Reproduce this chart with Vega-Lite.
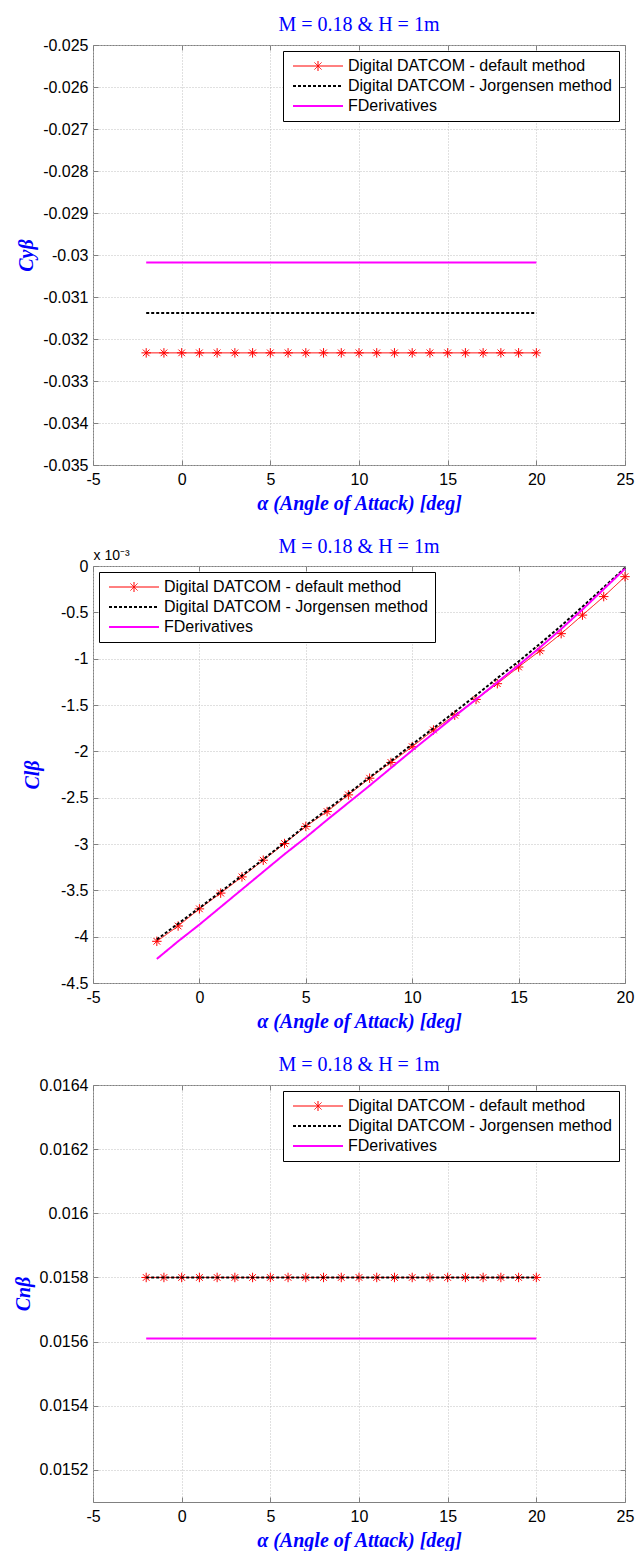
{
  "$schema": "https://vega.github.io/schema/vega-lite/v6.json",
  "background": "white",
  "padding": {"left": 12, "top": 14, "right": 0, "bottom": 0},
  "config": {
    "locale": {"number": {"decimal": ".", "thousands": ",", "grouping": [3], "currency": ["$", ""], "minus": "-"}},
    "view": {"stroke": "#808080", "strokeWidth": 1},
    "axis": {
      "domain": false,
      "labelFont": "Liberation Sans", "labelFontSize": 16, "labelColor": "#000000",
      "titleFont": "Liberation Serif", "titleFontSize": 20, "titleFontStyle": "italic", "titleFontWeight": "bold", "titleColor": "#0000ff",
      "tickColor": "#808080", "tickSize": -5, "labelPadding": 10,
      "gridColor": "#c0c0c0", "gridDash": [1, 2], "gridWidth": 1,
      "labelFlush": false, "labelOverlap": false
    },
    "axisX": {"labelPadding": 11, "titlePadding": 6},
    "axisY": {"titlePadding": 6},
    "title": {"font": "Liberation Serif", "fontSize": 20, "fontWeight": "normal", "color": "#0000ff", "offset": 2, "anchor": "middle"},
    "legend": {
      "strokeColor": "#000000", "fillColor": "#ffffff", "padding": 7,
      "labelFont": "Liberation Sans", "labelFontSize": 16, "labelColor": "#000000", "labelLimit": 400,
      "rowPadding": 4
    }
  },
  "datasets": {
    "cy": [
      {"alpha": -2, "def": -0.03233, "jor": -0.03138, "fd": -0.03018},
      {"alpha": -1, "def": -0.03233, "jor": -0.03138, "fd": -0.03018},
      {"alpha": 0, "def": -0.03233, "jor": -0.03138, "fd": -0.03018},
      {"alpha": 1, "def": -0.03233, "jor": -0.03138, "fd": -0.03018},
      {"alpha": 2, "def": -0.03233, "jor": -0.03138, "fd": -0.03018},
      {"alpha": 3, "def": -0.03233, "jor": -0.03138, "fd": -0.03018},
      {"alpha": 4, "def": -0.03233, "jor": -0.03138, "fd": -0.03018},
      {"alpha": 5, "def": -0.03233, "jor": -0.03138, "fd": -0.03018},
      {"alpha": 6, "def": -0.03233, "jor": -0.03138, "fd": -0.03018},
      {"alpha": 7, "def": -0.03233, "jor": -0.03138, "fd": -0.03018},
      {"alpha": 8, "def": -0.03233, "jor": -0.03138, "fd": -0.03018},
      {"alpha": 9, "def": -0.03233, "jor": -0.03138, "fd": -0.03018},
      {"alpha": 10, "def": -0.03233, "jor": -0.03138, "fd": -0.03018},
      {"alpha": 11, "def": -0.03233, "jor": -0.03138, "fd": -0.03018},
      {"alpha": 12, "def": -0.03233, "jor": -0.03138, "fd": -0.03018},
      {"alpha": 13, "def": -0.03233, "jor": -0.03138, "fd": -0.03018},
      {"alpha": 14, "def": -0.03233, "jor": -0.03138, "fd": -0.03018},
      {"alpha": 15, "def": -0.03233, "jor": -0.03138, "fd": -0.03018},
      {"alpha": 16, "def": -0.03233, "jor": -0.03138, "fd": -0.03018},
      {"alpha": 17, "def": -0.03233, "jor": -0.03138, "fd": -0.03018},
      {"alpha": 18, "def": -0.03233, "jor": -0.03138, "fd": -0.03018},
      {"alpha": 19, "def": -0.03233, "jor": -0.03138, "fd": -0.03018},
      {"alpha": 20, "def": -0.03233, "jor": -0.03138, "fd": -0.03018}
    ],
    "cl": [
      {"alpha": -2, "def": -4.05, "jor": -4.03, "fd": -4.24},
      {"alpha": -1, "def": -3.885, "jor": -3.86, "fd": -4.05},
      {"alpha": 0, "def": -3.7, "jor": -3.69, "fd": -3.87},
      {"alpha": 1, "def": -3.53, "jor": -3.515, "fd": -3.68},
      {"alpha": 2, "def": -3.355, "jor": -3.34, "fd": -3.49},
      {"alpha": 3, "def": -3.175, "jor": -3.165, "fd": -3.3},
      {"alpha": 4, "def": -2.995, "jor": -2.985, "fd": -3.11},
      {"alpha": 5, "def": -2.81, "jor": -2.8, "fd": -2.93},
      {"alpha": 6, "def": -2.65, "jor": -2.63, "fd": -2.74},
      {"alpha": 7, "def": -2.47, "jor": -2.455, "fd": -2.555},
      {"alpha": 8, "def": -2.29, "jor": -2.28, "fd": -2.37},
      {"alpha": 9, "def": -2.12, "jor": -2.105, "fd": -2.18},
      {"alpha": 10, "def": -1.95, "jor": -1.925, "fd": -1.99},
      {"alpha": 11, "def": -1.77, "jor": -1.75, "fd": -1.805},
      {"alpha": 12, "def": -1.61, "jor": -1.575, "fd": -1.62},
      {"alpha": 13, "def": -1.44, "jor": -1.395, "fd": -1.44},
      {"alpha": 14, "def": -1.27, "jor": -1.21, "fd": -1.255},
      {"alpha": 15, "def": -1.09, "jor": -1.03, "fd": -1.07},
      {"alpha": 16, "def": -0.915, "jor": -0.84, "fd": -0.88},
      {"alpha": 17, "def": -0.73, "jor": -0.645, "fd": -0.68},
      {"alpha": 18, "def": -0.53, "jor": -0.44, "fd": -0.47},
      {"alpha": 19, "def": -0.33, "jor": -0.23, "fd": -0.25},
      {"alpha": 20, "def": -0.115, "jor": -0.02, "fd": -0.03}
    ],
    "cn": [
      {"alpha": -2, "def": 0.0158, "jor": 0.0158, "fd": 0.01561},
      {"alpha": -1, "def": 0.0158, "jor": 0.0158, "fd": 0.01561},
      {"alpha": 0, "def": 0.0158, "jor": 0.0158, "fd": 0.01561},
      {"alpha": 1, "def": 0.0158, "jor": 0.0158, "fd": 0.01561},
      {"alpha": 2, "def": 0.0158, "jor": 0.0158, "fd": 0.01561},
      {"alpha": 3, "def": 0.0158, "jor": 0.0158, "fd": 0.01561},
      {"alpha": 4, "def": 0.0158, "jor": 0.0158, "fd": 0.01561},
      {"alpha": 5, "def": 0.0158, "jor": 0.0158, "fd": 0.01561},
      {"alpha": 6, "def": 0.0158, "jor": 0.0158, "fd": 0.01561},
      {"alpha": 7, "def": 0.0158, "jor": 0.0158, "fd": 0.01561},
      {"alpha": 8, "def": 0.0158, "jor": 0.0158, "fd": 0.01561},
      {"alpha": 9, "def": 0.0158, "jor": 0.0158, "fd": 0.01561},
      {"alpha": 10, "def": 0.0158, "jor": 0.0158, "fd": 0.01561},
      {"alpha": 11, "def": 0.0158, "jor": 0.0158, "fd": 0.01561},
      {"alpha": 12, "def": 0.0158, "jor": 0.0158, "fd": 0.01561},
      {"alpha": 13, "def": 0.0158, "jor": 0.0158, "fd": 0.01561},
      {"alpha": 14, "def": 0.0158, "jor": 0.0158, "fd": 0.01561},
      {"alpha": 15, "def": 0.0158, "jor": 0.0158, "fd": 0.01561},
      {"alpha": 16, "def": 0.0158, "jor": 0.0158, "fd": 0.01561},
      {"alpha": 17, "def": 0.0158, "jor": 0.0158, "fd": 0.01561},
      {"alpha": 18, "def": 0.0158, "jor": 0.0158, "fd": 0.01561},
      {"alpha": 19, "def": 0.0158, "jor": 0.0158, "fd": 0.01561},
      {"alpha": 20, "def": 0.0158, "jor": 0.0158, "fd": 0.01561}
    ]
  },
  "concat": [
    {
      "title": {"text": "M = 0.18 & H = 1m"},
      "width": 532, "height": 420,
      "data": {"name": "cy"},
      "transform": [{"fold": ["def", "jor", "fd"], "as": ["s", "value"]}],
      "encoding": {
        "x": {"field": "alpha", "type": "quantitative", "scale": {"domain": [-5, 25], "nice": false, "zero": false}, "axis": {"title": "α (Angle of Attack) [deg]", "values": [-5, 0, 5, 10, 15, 20, 25], "format": "d"}},
        "y": {"field": "value", "type": "quantitative", "scale": {"domain": [-0.035, -0.025], "nice": false, "zero": false}, "axis": {"title": "Cyβ", "values": [-0.035, -0.034, -0.033, -0.032, -0.031, -0.03, -0.029, -0.028, -0.027, -0.026, -0.025], "format": ".3~f"}}
      },
      "layer": [
        {"layer": [
          {"transform": [{"filter": "datum.s === 'def'"}], "mark": {"type": "line", "strokeWidth": 1},
           "encoding": {
             "color": {"datum": "Digital DATCOM - default method", "type": "nominal", "scale": {"domain": ["Digital DATCOM - default method", "Digital DATCOM - Jorgensen method", "FDerivatives"], "range": ["#ff0000", "#000000", "#ff00ff"]}, "legend": {"title": null, "orient": "top-right", "offset": 6, "symbolType": "M-5,0L5,0", "symbolSize": 100, "symbolOffset": 20, "labelOffset": 22, "encode": {"symbols": {"update": {"shape": {"signal": "datum.value === 'Digital DATCOM - default method' ? 'M-5,0L5,0M0,-1L0,1M-0.7,-0.7L0.7,0.7M-0.7,0.7L0.7,-0.7' : 'M-5,0L5,0'"}, "strokeWidth": {"signal": "datum.value === 'Digital DATCOM - default method' ? 1 : 2"}}}}}},
             "strokeDash": {"datum": "Digital DATCOM - default method", "type": "nominal", "scale": {"domain": ["Digital DATCOM - default method", "Digital DATCOM - Jorgensen method", "FDerivatives"], "range": [[1, 0], [3, 2], [1, 0]]}, "legend": {"title": null, "orient": "top-right", "offset": 6, "symbolType": "M-5,0L5,0", "symbolSize": 100, "symbolOffset": 20, "labelOffset": 22}}
           }},
          {"transform": [{"filter": "datum.s === 'def'"}], "mark": {"type": "point", "shape": "M-1,0L1,0M0,-1L0,1M-0.7,-0.7L0.7,0.7M-0.7,0.7L0.7,-0.7", "size": 90, "filled": false, "color": "#ff0000", "strokeWidth": 1, "opacity": 1}},
          {"transform": [{"filter": "datum.s === 'jor'"}], "mark": {"type": "line", "strokeWidth": 2},
           "encoding": {"color": {"datum": "Digital DATCOM - Jorgensen method", "type": "nominal"}, "strokeDash": {"datum": "Digital DATCOM - Jorgensen method", "type": "nominal"}}},
          {"transform": [{"filter": "datum.s === 'fd'"}], "mark": {"type": "line", "strokeWidth": 2},
           "encoding": {"color": {"datum": "FDerivatives", "type": "nominal"}, "strokeDash": {"datum": "FDerivatives", "type": "nominal"}}}
        ]},
        {"mark": {"type": "point", "opacity": 0},
         "encoding": {
           "x": {"field": "alpha", "type": "quantitative", "scale": {"domain": [-5, 25], "nice": false, "zero": false}, "axis": {"orient": "top", "labels": false, "grid": false, "title": null, "values": [-5, 0, 5, 10, 15, 20, 25]}},
           "y": {"field": "value", "type": "quantitative", "scale": {"domain": [-0.035, -0.025], "nice": false, "zero": false}, "axis": {"orient": "right", "labels": false, "grid": false, "title": null, "values": [-0.035, -0.034, -0.033, -0.032, -0.031, -0.03, -0.029, -0.028, -0.027, -0.026, -0.025]}}
         }}
      ],
      "resolve": {"axis": {"x": "independent", "y": "independent"}}
    },
    {
      "title": {"text": "M = 0.18 & H = 1m", "offset": -8},
      "width": 532, "height": 417,
      "data": {"name": "cl"},
      "transform": [{"fold": ["def", "jor", "fd"], "as": ["s", "value"]}],
      "encoding": {
        "x": {"field": "alpha", "type": "quantitative", "scale": {"domain": [-5, 20], "nice": false, "zero": false}, "axis": {"title": "α (Angle of Attack) [deg]", "values": [-5, 0, 5, 10, 15, 20], "format": "d"}},
        "y": {"field": "value", "type": "quantitative", "scale": {"domain": [-4.5, 0], "nice": false, "zero": false}, "axis": {"title": "Clβ", "titlePadding": 18, "values": [-4.5, -4, -3.5, -3, -2.5, -2, -1.5, -1, -0.5, 0], "format": ".1~f"}}
      },
      "layer": [
        {"layer": [
          {"transform": [{"filter": "datum.s === 'def'"}], "mark": {"type": "line", "strokeWidth": 1},
           "encoding": {
             "color": {"datum": "Digital DATCOM - default method", "type": "nominal", "scale": {"domain": ["Digital DATCOM - default method", "Digital DATCOM - Jorgensen method", "FDerivatives"], "range": ["#ff0000", "#000000", "#ff00ff"]}, "legend": {"title": null, "orient": "top-left", "offset": 6, "symbolType": "M-5,0L5,0", "symbolSize": 100, "symbolOffset": 20, "labelOffset": 22, "encode": {"symbols": {"update": {"shape": {"signal": "datum.value === 'Digital DATCOM - default method' ? 'M-5,0L5,0M0,-1L0,1M-0.7,-0.7L0.7,0.7M-0.7,0.7L0.7,-0.7' : 'M-5,0L5,0'"}, "strokeWidth": {"signal": "datum.value === 'Digital DATCOM - default method' ? 1 : 2"}}}}}},
             "strokeDash": {"datum": "Digital DATCOM - default method", "type": "nominal", "scale": {"domain": ["Digital DATCOM - default method", "Digital DATCOM - Jorgensen method", "FDerivatives"], "range": [[1, 0], [3, 2], [1, 0]]}, "legend": {"title": null, "orient": "top-left", "offset": 6, "symbolType": "M-5,0L5,0", "symbolSize": 100, "symbolOffset": 20, "labelOffset": 22}}
           }},
          {"transform": [{"filter": "datum.s === 'def'"}], "mark": {"type": "point", "shape": "M-1,0L1,0M0,-1L0,1M-0.7,-0.7L0.7,0.7M-0.7,0.7L0.7,-0.7", "size": 90, "filled": false, "color": "#ff0000", "strokeWidth": 1, "opacity": 1}},
          {"transform": [{"filter": "datum.s === 'jor'"}], "mark": {"type": "line", "strokeWidth": 2},
           "encoding": {"color": {"datum": "Digital DATCOM - Jorgensen method", "type": "nominal"}, "strokeDash": {"datum": "Digital DATCOM - Jorgensen method", "type": "nominal"}}},
          {"transform": [{"filter": "datum.s === 'fd'"}], "mark": {"type": "line", "strokeWidth": 2},
           "encoding": {"color": {"datum": "FDerivatives", "type": "nominal"}, "strokeDash": {"datum": "FDerivatives", "type": "nominal"}}}
        ]},
        {"mark": {"type": "point", "opacity": 0},
         "encoding": {
           "x": {"field": "alpha", "type": "quantitative", "scale": {"domain": [-5, 20], "nice": false, "zero": false}, "axis": {"orient": "top", "labels": false, "grid": false, "title": "x 10⁻³", "titleAnchor": "start", "titleAngle": 0, "titleFont": "Liberation Sans", "titleFontSize": 14, "titleFontStyle": "normal", "titleFontWeight": "normal", "titleColor": "#000000", "titlePadding": 3, "values": [-5, 0, 5, 10, 15, 20]}},
           "y": {"field": "value", "type": "quantitative", "scale": {"domain": [-4.5, 0], "nice": false, "zero": false}, "axis": {"orient": "right", "labels": false, "grid": false, "title": null, "values": [-4.5, -4, -3.5, -3, -2.5, -2, -1.5, -1, -0.5, 0]}}
         }}
      ],
      "resolve": {"axis": {"x": "independent", "y": "independent"}}
    },
    {
      "title": {"text": "M = 0.18 & H = 1m"},
      "width": 532, "height": 417,
      "data": {"name": "cn"},
      "transform": [{"fold": ["def", "jor", "fd"], "as": ["s", "value"]}],
      "encoding": {
        "x": {"field": "alpha", "type": "quantitative", "scale": {"domain": [-5, 25], "nice": false, "zero": false}, "axis": {"title": "α (Angle of Attack) [deg]", "values": [-5, 0, 5, 10, 15, 20, 25], "format": "d"}},
        "y": {"field": "value", "type": "quantitative", "scale": {"domain": [0.0151, 0.0164], "nice": false, "zero": false}, "axis": {"title": "Cnβ", "values": [0.0152, 0.0154, 0.0156, 0.0158, 0.016, 0.0162, 0.0164], "format": ".4~f"}}
      },
      "layer": [
        {"layer": [
          {"transform": [{"filter": "datum.s === 'def'"}], "mark": {"type": "line", "strokeWidth": 1},
           "encoding": {
             "color": {"datum": "Digital DATCOM - default method", "type": "nominal", "scale": {"domain": ["Digital DATCOM - default method", "Digital DATCOM - Jorgensen method", "FDerivatives"], "range": ["#ff0000", "#000000", "#ff00ff"]}, "legend": {"title": null, "orient": "top-right", "offset": 6, "symbolType": "M-5,0L5,0", "symbolSize": 100, "symbolOffset": 20, "labelOffset": 22, "encode": {"symbols": {"update": {"shape": {"signal": "datum.value === 'Digital DATCOM - default method' ? 'M-5,0L5,0M0,-1L0,1M-0.7,-0.7L0.7,0.7M-0.7,0.7L0.7,-0.7' : 'M-5,0L5,0'"}, "strokeWidth": {"signal": "datum.value === 'Digital DATCOM - default method' ? 1 : 2"}}}}}},
             "strokeDash": {"datum": "Digital DATCOM - default method", "type": "nominal", "scale": {"domain": ["Digital DATCOM - default method", "Digital DATCOM - Jorgensen method", "FDerivatives"], "range": [[1, 0], [3, 2], [1, 0]]}, "legend": {"title": null, "orient": "top-right", "offset": 6, "symbolType": "M-5,0L5,0", "symbolSize": 100, "symbolOffset": 20, "labelOffset": 22}}
           }},
          {"transform": [{"filter": "datum.s === 'def'"}], "mark": {"type": "point", "shape": "M-1,0L1,0M0,-1L0,1M-0.7,-0.7L0.7,0.7M-0.7,0.7L0.7,-0.7", "size": 90, "filled": false, "color": "#ff0000", "strokeWidth": 1, "opacity": 1}},
          {"transform": [{"filter": "datum.s === 'jor'"}], "mark": {"type": "line", "strokeWidth": 2},
           "encoding": {"color": {"datum": "Digital DATCOM - Jorgensen method", "type": "nominal"}, "strokeDash": {"datum": "Digital DATCOM - Jorgensen method", "type": "nominal"}}},
          {"transform": [{"filter": "datum.s === 'fd'"}], "mark": {"type": "line", "strokeWidth": 2},
           "encoding": {"color": {"datum": "FDerivatives", "type": "nominal"}, "strokeDash": {"datum": "FDerivatives", "type": "nominal"}}}
        ]},
        {"mark": {"type": "point", "opacity": 0},
         "encoding": {
           "x": {"field": "alpha", "type": "quantitative", "scale": {"domain": [-5, 25], "nice": false, "zero": false}, "axis": {"orient": "top", "labels": false, "grid": false, "title": null, "values": [-5, 0, 5, 10, 15, 20, 25]}},
           "y": {"field": "value", "type": "quantitative", "scale": {"domain": [0.0151, 0.0164], "nice": false, "zero": false}, "axis": {"orient": "right", "labels": false, "grid": false, "title": null, "values": [0.0152, 0.0154, 0.0156, 0.0158, 0.016, 0.0162, 0.0164]}}
         }}
      ],
      "resolve": {"axis": {"x": "independent", "y": "independent"}}
    }
  ],
  "columns": 1,
  "align": "none",
  "spacing": 22
}
